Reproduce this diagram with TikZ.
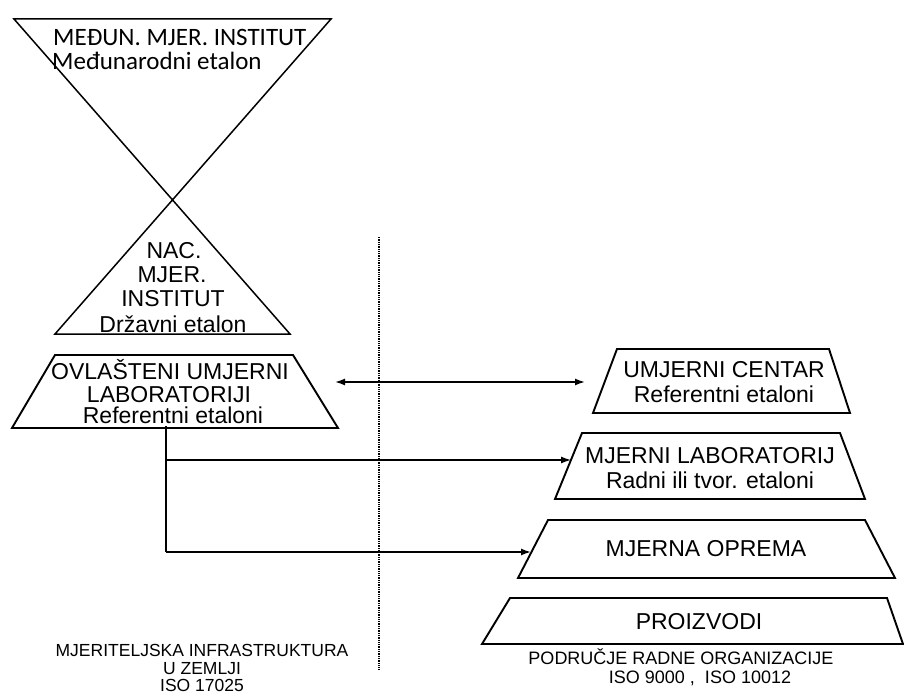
\documentclass[tikz,border=0pt]{standalone}
\usepackage{fontspec}
\setmainfont{Liberation Sans}
\newfontfamily\calfont{Carlito}
\usetikzlibrary{arrows.meta}
\begin{document}
\begin{tikzpicture}[x=1pt,y=-1pt,
  xline/.style={line width=1.5pt, line join=miter},
  trap/.style={line width=1.9pt, line join=miter},
  lbl/.style={inner sep=0pt, anchor=base, font=\fontsize{23}{23}\selectfont},
  toplbl/.style={inner sep=0pt, anchor=base west, font=\calfont\fontsize{25}{25}\selectfont},
  small/.style={inner sep=0pt, anchor=base, font=\fontsize{18}{18}\selectfont},
  smallL/.style={inner sep=0pt, anchor=base, font=\fontsize{17.5}{17.5}\selectfont},
  conn/.style={line width=1.6pt},
  tip/.style={-{Latex[length=10pt,width=7pt]}}
]
\useasboundingbox (0,0) rectangle (904,695);

% hourglass: international and national institute
\coordinate (tl) at (14,19);
\coordinate (tr) at (331,19);
\coordinate (bl) at (55,334);
\coordinate (br) at (290,334);
\draw[xline] (tl) -- (tr) -- (bl) -- (br) -- cycle;

\node[toplbl] (t1) at (53,46) {MEĐUN. MJER. INSTITUT};
\node[toplbl] (t2) at (52,70) {Međunarodni etalon};

\node[lbl] (n1) at (174,258) {NAC.};
\node[lbl] (n2) at (172,282) {MJER.};
\node[lbl] (n3) at (173,306) {INSTITUT};
\node[lbl] (n4) at (173,332) {Državni etalon};

% OVLASTENI trapezoid
\draw[trap] (55,355) -- (293,355) -- (338,428) -- (12,428) -- cycle;
\node[lbl] (o1) at (170,379) {OVLAŠTENI UMJERNI};
\node[lbl] (o2) at (169,402) {LABORATORIJI};
\node[lbl] (o3) at (173,423) {Referentni etaloni};

% right side trapezoids
\draw[trap] (617,349) -- (829,349) -- (850,413) -- (593,413) -- cycle;
\node[lbl] (u1) at (724,377) {UMJERNI CENTAR};
\node[lbl] (u2) at (724,402) {Referentni etaloni};

\draw[trap] (582,433) -- (840,433) -- (865,499) -- (555,499) -- cycle;
\node[lbl] (m1) at (710,463) {MJERNI LABORATORIJ};
\node[lbl] (m2) at (710,488) {Radni ili tvor. etaloni};

\draw[trap] (548,520) -- (865,520) -- (895,578) -- (518,578) -- cycle;
\node[lbl] (e1) at (706,556) {MJERNA OPREMA};

\draw[trap] (510,598) -- (887,598) -- (903,644) -- (482,644) -- cycle;
\node[lbl] (p1) at (699,629) {PROIZVODI};

% bottom labels
\node[small] (r1) at (681,664) {PODRUČJE RADNE ORGANIZACIJE};
\node[small] (r2) at (700,683) {ISO 9000 ,\ \ ISO 10012};
\node[smallL] (l1) at (202,656) {MJERITELJSKA INFRASTRUKTURA};
\node[smallL] (l2) at (202,674) {U ZEMLJI};
\node[smallL] (l3) at (202,691) {ISO 17025};

% dotted separator
\coordinate (dtop) at (379,237);
\coordinate (dbot) at (379,670);
\draw[line width=1.5pt, dash pattern=on 1.3pt off 1pt] (dtop) -- (dbot);

% double arrow
\coordinate (aL) at (335,382);
\coordinate (aR) at (585,382);
\draw[conn, {Latex[length=10pt,width=7pt]}-{Latex[length=10pt,width=7pt]}] (aL) -- (aR);

% connectors from OVLASTENI
\coordinate (s0) at (166,426);
\coordinate (s1) at (166,460);
\coordinate (s2) at (166,552);
\coordinate (mL) at (571,460);
\coordinate (eL) at (531,552);
\draw[conn] (s0) -- (s2);
\draw[line width=1.3pt, tip] (s1) -- (mL);
\draw[conn, tip] (s2) -- (eL);
\end{tikzpicture}
\end{document}
